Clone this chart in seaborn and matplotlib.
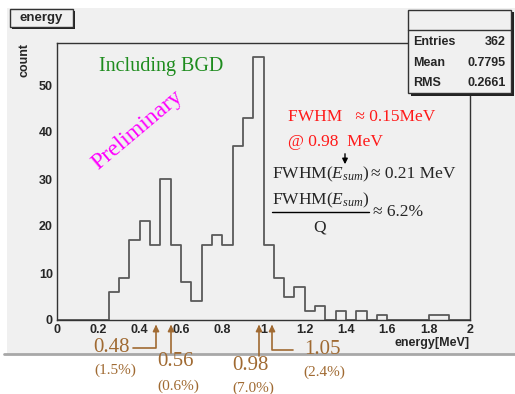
import numpy as np
import pandas as pd
import matplotlib
matplotlib.use("Agg")
import matplotlib.pyplot as plt
import seaborn as sns
from matplotlib.patches import Rectangle
from matplotlib.lines import Line2D

######################################################################
# data (bins of 0.05 MeV from 0 to 2)
bin_edges = [round(0.05 * i, 2) for i in range(41)]
counts = [0, 0, 0, 0, 0,
          6, 9, 17, 21, 16, 30, 16, 8, 4, 16, 18, 16, 37, 43, 56,
          16, 9, 5, 7, 2, 3, 0, 2, 0, 2, 0, 1, 0, 0, 0, 0, 1, 1, 0, 0]
xticks = [0, 0.2, 0.4, 0.6, 0.8, 1, 1.2, 1.4, 1.6, 1.8, 2]
xtick_labels = ["0", "0.2", "0.4", "0.6", "0.8", "1", "1.2", "1.4", "1.6", "1.8", "2"]
yticks = [0, 10, 20, 30, 40, 50]
stats_names = ["Entries", "Mean", "RMS"]
stats_values = ["362", "0.7795", "0.2661"]
peak_energies = [0.48, 0.56, 0.98, 1.05]
peak_labels = ["0.48", "0.56", "0.98", "1.05"]
peak_fracs = ["(1.5%)", "(0.6%)", "(7.0%)", "(2.4%)"]

edges = np.array(bin_edges)
df = pd.DataFrame({"energy": (edges[:-1] + edges[1:]) / 2, "count": counts})

######################################################################
sns.set_style("white")
plt.rcParams["font.family"] = ["Liberation Sans", "DejaVu Sans"]
plt.rcParams["mathtext.fontset"] = "custom"
plt.rcParams["mathtext.rm"] = "Liberation Serif"
plt.rcParams["mathtext.it"] = "Liberation Serif:italic"

W, H = 515, 394
fig = plt.figure(figsize=(W / 100, H / 100), dpi=100)
fig.patch.set_facecolor("white")


def fx(px):
    return px / W


def fy(py):
    return 1 - py / H


# grey canvas like ROOT
fig.add_artist(Rectangle((fx(7), fy(354)), fx(515) - fx(7), fy(8) - fy(354),
                         transform=fig.transFigure, facecolor="#f0f0f0",
                         edgecolor="none", zorder=0))
fig.add_artist(Line2D([fx(4), fx(515)], [fy(354), fy(354)], transform=fig.transFigure,
                      color="#a8a8a8", lw=2, zorder=1))

ax = fig.add_axes([fx(57), fy(320), fx(470) - fx(57), fy(42.7) - fy(320)])
ax.set_facecolor("#f0f0f0")

sns.histplot(data=df, x="energy", weights="count", bins=bin_edges,
             element="step", fill=False, color="#5a5a5a", linewidth=1.3, ax=ax)

ax.set_xlim(0, 2)
ax.set_ylim(0, 59)
ax.set_xticks(xticks)
ax.set_xticklabels(xtick_labels, fontweight="bold", fontsize=9)
ax.set_xticks(np.arange(0, 2.0001, 0.05), minor=True)
ax.set_yticks(yticks)
ax.set_yticklabels([str(v) for v in yticks], fontweight="bold", fontsize=9)
ax.set_yticks(np.arange(0, 59, 2), minor=True)
ax.tick_params(axis="x", which="major", direction="in", length=5, width=1, color="#444444", pad=3)
ax.tick_params(axis="x", which="minor", direction="in", length=3, width=1, color="#444444")
ax.tick_params(axis="y", which="major", direction="in", length=8.5, width=1, color="#444444", pad=3)
ax.tick_params(axis="y", which="minor", direction="in", length=4.3, width=1, color="#444444")
ax.tick_params(top=False, right=False, which="both")
for s in ax.spines.values():
    s.set_color("#333333")
    s.set_linewidth(1)
ax.set_xlabel("")
ax.set_ylabel("")

# axis titles
fig.text(fx(470), fy(343), "energy[MeV]", ha="right", va="center", fontsize=9, fontweight="bold")
fig.text(fx(24), fy(60), "count", ha="center", va="center", rotation=90, fontsize=9, fontweight="bold")

# title box
fig.add_artist(Rectangle((fx(12), fy(29)), fx(73) - fx(10), fy(9) - fy(27),
                         transform=fig.transFigure, facecolor="#222222", edgecolor="none", zorder=3))
fig.add_artist(Rectangle((fx(10), fy(27)), fx(73) - fx(10), fy(9) - fy(27),
                         transform=fig.transFigure, facecolor="#f0f0f0", edgecolor="#333333",
                         lw=1, zorder=4))
fig.text(fx(41.5), fy(18), "energy", ha="center", va="center", fontsize=9.5,
         fontweight="bold", zorder=5)

# stats box
fig.add_artist(Rectangle((fx(410.5), fy(95.5)), fx(511) - fx(408), fy(10) - fy(93),
                         transform=fig.transFigure, facecolor="#222222", edgecolor="none", zorder=3))
fig.add_artist(Rectangle((fx(408), fy(93)), fx(511) - fx(408), fy(10) - fy(93),
                         transform=fig.transFigure, facecolor="#f0f0f0", edgecolor="#333333",
                         lw=1, zorder=4))
fig.add_artist(Line2D([fx(408), fx(511)], [fy(30), fy(30)], transform=fig.transFigure,
                      color="#333333", lw=1, zorder=5))
for i, (nm, val) in enumerate(zip(stats_names, stats_values)):
    yy = fy(42 + i * 20.5)
    fig.text(fx(413), yy, nm, ha="left", va="center", fontsize=9, fontweight="bold", zorder=6)
    fig.text(fx(506), yy, val, ha="right", va="center", fontsize=9, fontweight="bold", zorder=6)

# annotations inside the plot
serif = "Liberation Serif"
fig.text(fx(161), fy(67), "Including BGD", ha="center", va="center", fontsize=14.5,
         family=serif, color="#1e8c1e")
fig.text(fx(137), fy(130), "Preliminary", ha="center", va="center", fontsize=17,
         family=serif, color="#ff00ff", rotation=40, rotation_mode="anchor")
fig.text(fx(288), fy(117), "FWHM   \u2248 0.15MeV", ha="left", va="center", fontsize=12.5,
         family=serif, color="#ff1a1a")
fig.text(fx(288), fy(142), "@ 0.98  MeV", ha="left", va="center", fontsize=12.5,
         family=serif, color="#ff1a1a")
fig.add_artist(plt.Annotation("", xy=(fx(345), fy(167)), xytext=(fx(345), fy(151)),
                              xycoords="figure fraction",
                              arrowprops=dict(arrowstyle="-|>", color="black", lw=1,
                                              mutation_scale=8)))
fig.text(fx(272), fy(174), r"$\mathrm{FWHM}(E_{sum})$", ha="left", va="center", fontsize=12.5)
fig.text(fx(371), fy(174), "\u2248 0.21 MeV", ha="left", va="center", fontsize=12.5, family=serif)
fig.text(fx(272), fy(200), r"$\mathrm{FWHM}(E_{sum})$", ha="left", va="center", fontsize=12.5)
fig.add_artist(Line2D([fx(272), fx(369)], [fy(212), fy(212)], transform=fig.transFigure,
                      color="black", lw=1))
fig.text(fx(320), fy(227), "Q", ha="center", va="center", fontsize=12.5, family=serif)
fig.text(fx(373), fy(212), "\u2248 6.2%", ha="left", va="center", fontsize=12.5, family=serif)

# peak markers below the axis
brown = "#a06a32"
label_pos = [(112, 347), (175, 362), (250, 365), (322, 349)]
frac_pos = [(115, 370), (178, 386), (253, 388), (324, 372)]
for e, lab, fr, lp, fp in zip(peak_energies, peak_labels, peak_fracs, label_pos, frac_pos):
    fig.text(fx(lp[0]), fy(lp[1]), lab, ha="center", va="center", fontsize=15,
             family=serif, color=brown)
    fig.text(fx(fp[0]), fy(fp[1]), fr, ha="center", va="center", fontsize=11,
             family=serif, color=brown)

arrow_paths = [
    [(133, 348), (156, 348), (156, 322)],
    [(171, 353), (171, 322)],
    [(259, 356), (259, 322)],
    [(293, 350), (272, 350), (272, 322)],
]
for path in arrow_paths:
    xs = [fx(p[0]) for p in path]
    ys = [fy(p[1]) for p in path]
    fig.add_artist(Line2D(xs[:-1] + [xs[-1]], ys[:-1] + [fy(path[-1][1] + 6)],
                          transform=fig.transFigure, color=brown, lw=1.2))
    fig.add_artist(plt.Annotation("", xy=(xs[-1], ys[-1]), xytext=(xs[-1], fy(path[-1][1] + 8)),
                                  xycoords="figure fraction",
                                  arrowprops=dict(arrowstyle="-|>", color=brown, lw=1.2,
                                                  mutation_scale=9)))

fig.savefig("out.png", dpi=100)
